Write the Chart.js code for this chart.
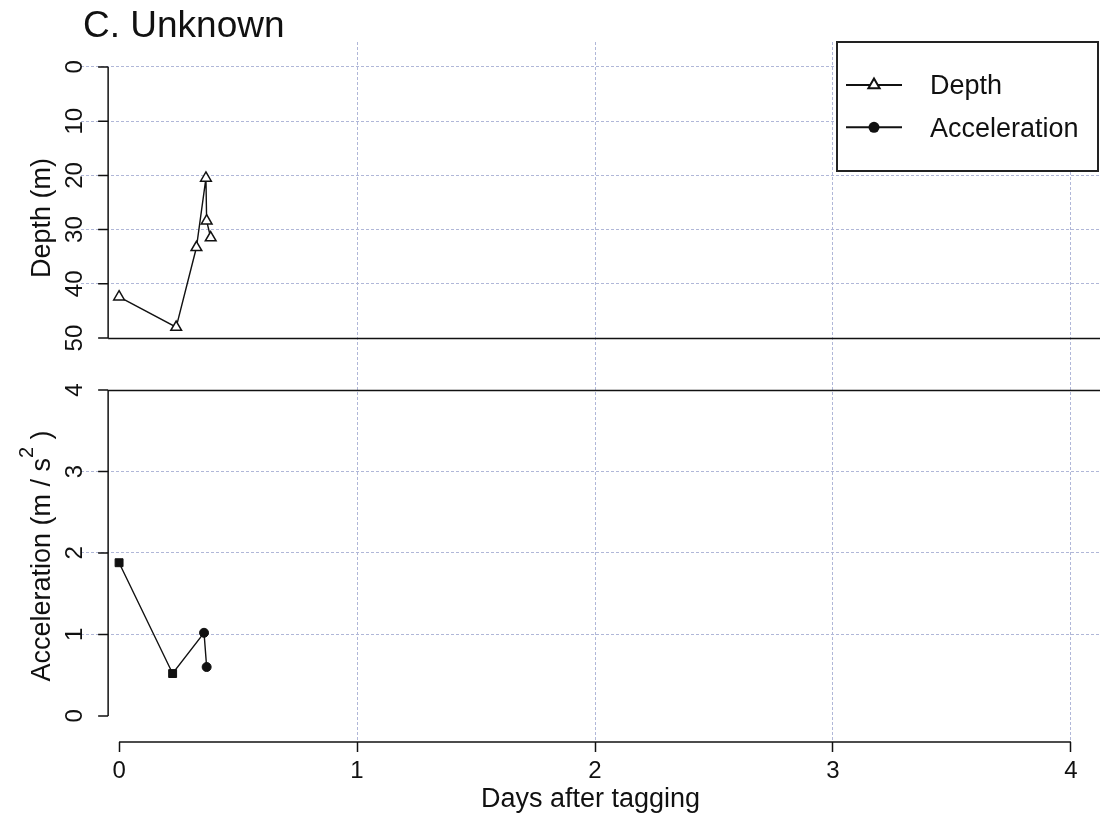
<!DOCTYPE html>
<html>
<head>
<meta charset="utf-8">
<title>C. Unknown</title>
<script src="https://cdn.jsdelivr.net/npm/chart.js@4.4.0/dist/chart.umd.min.js"></script>
<style>
  html, body { margin: 0; padding: 0; background: #fff; }
  #wrap { position: relative; width: 1100px; height: 822px; }
</style>
</head>
<body>
<div id="wrap"><canvas id="tagChart" width="1100" height="822"></canvas></div>
<script>
// depth records (days after tagging, metres)
const depthDays = [0.0, 0.24, 0.325, 0.365, 0.368, 0.385];
const depthValues = [42.4, 48.0, 33.3, 20.5, 28.4, 31.5];

// acceleration records (days after tagging, m/s^2)
const accelDays = [0.0, 0.225, 0.357, 0.368];
const accelValues = [1.88, 0.52, 1.02, 0.60];
const accelMarkers = ['rect', 'rect', 'circle', 'circle'];

const dayTicks = [0, 1, 2, 3, 4];
const depthTicks = [0, 10, 20, 30, 40, 50];
const accelTicks = [0, 1, 2, 3, 4];

const panelTitle = 'C. Unknown';
const depthTitle = 'Depth (m)';
const accelTitle = ['Acceleration (m / s', '2', ' )'];
const xTitle = 'Days after tagging';

const ink = '#111';
const gridBlue = '#b0b7d8';
const fontFamily = "'Liberation Sans', Arial, Helvetica, sans-serif";
const yAxisDay = -0.046;   // where the left axes sit on the day scale

function gridColor(hidden) {
  return ctx => (ctx.tick && hidden.includes(ctx.tick.value)) ? 'rgba(0,0,0,0)' : gridBlue;
}

function toPoints(xs, ys) {
  return xs.map((x, i) => ({ x: x, y: ys[i] }));
}

// R-style detached axes, panel separators, titles and the boxed legend
const panelAxes = {
  id: 'panelAxes',
  afterDraw(chart) {
    const { ctx, chartArea, scales } = chart;
    const xs = scales.x;
    const axisX = xs.getPixelForValue(yAxisDay);

    ctx.save();
    ctx.strokeStyle = ink;
    ctx.fillStyle = ink;
    ctx.lineWidth = 1.5;

    // panel borders
    ctx.beginPath();
    const sepTop = Math.round(scales.yDepth.getPixelForValue(50)) + 0.5;
    const sepBottom = Math.round(scales.yAccel.getPixelForValue(4)) + 0.5;
    ctx.moveTo(axisX, sepTop); ctx.lineTo(chartArea.right, sepTop);
    ctx.moveTo(axisX, sepBottom); ctx.lineTo(chartArea.right, sepBottom);
    ctx.stroke();

    // x axis line between first and last tick
    ctx.beginPath();
    ctx.moveTo(xs.getPixelForValue(dayTicks[0]), chartArea.bottom);
    ctx.lineTo(xs.getPixelForValue(dayTicks[dayTicks.length - 1]), chartArea.bottom);
    ctx.stroke();

    // left axes, labels read bottom to top
    ctx.font = '24px ' + fontFamily;
    ctx.textAlign = 'center';
    ctx.textBaseline = 'alphabetic';
    [scales.yDepth, scales.yAccel].forEach(scale => {
      const ticks = scale.ticks;
      const p0 = scale.getPixelForValue(ticks[0].value);
      const p1 = scale.getPixelForValue(ticks[ticks.length - 1].value);
      ctx.beginPath();
      ctx.moveTo(axisX, p0); ctx.lineTo(axisX, p1);
      ticks.forEach(t => {
        const py = scale.getPixelForValue(t.value);
        ctx.moveTo(axisX - 10, py); ctx.lineTo(axisX, py);
      });
      ctx.stroke();
      ticks.forEach(t => {
        const py = scale.getPixelForValue(t.value);
        ctx.save();
        ctx.translate(axisX - 26, py);
        ctx.rotate(-Math.PI / 2);
        ctx.fillText(String(t.value), 0, 0);
        ctx.restore();
      });
    });

    // axis titles
    ctx.font = '27px ' + fontFamily;
    ctx.save();
    ctx.translate(50, 218);
    ctx.rotate(-Math.PI / 2);
    ctx.fillText(depthTitle, 0, 0);
    ctx.restore();

    ctx.save();
    ctx.translate(50, 556);
    ctx.rotate(-Math.PI / 2);
    ctx.textAlign = 'left';
    const mainFont = '27px ' + fontFamily;
    const supFont = '20px ' + fontFamily;
    ctx.font = mainFont;
    const w0 = ctx.measureText(accelTitle[0]).width;
    const w2 = ctx.measureText(accelTitle[2]).width;
    ctx.font = supFont;
    const w1 = ctx.measureText(accelTitle[1]).width;
    let cx = -(w0 + w1 + w2) / 2;
    ctx.font = mainFont;
    ctx.fillText(accelTitle[0], cx, 0); cx += w0;
    ctx.font = supFont;
    ctx.fillText(accelTitle[1], cx, -17); cx += w1;
    ctx.font = mainFont;
    ctx.fillText(accelTitle[2], cx, 0);
    ctx.restore();

    // main title
    ctx.font = '37px ' + fontFamily;
    ctx.textAlign = 'left';
    ctx.fillText(panelTitle, 83, 37);

    // legend box
    const box = { left: 837, top: 42, right: 1098, bottom: 171 };
    ctx.fillStyle = '#fff';
    ctx.fillRect(box.left, box.top, box.right - box.left, box.bottom - box.top);
    ctx.lineWidth = 2;
    ctx.strokeStyle = '#222';
    ctx.strokeRect(box.left, box.top, box.right - box.left, box.bottom - box.top);

    ctx.font = '27px ' + fontFamily;
    ctx.textBaseline = 'alphabetic';
    chart.data.datasets.forEach((ds, i) => {
      const rowY = 85 + i * 42.3;
      ctx.strokeStyle = ink;
      ctx.lineWidth = 2;
      ctx.beginPath();
      ctx.moveTo(846, rowY); ctx.lineTo(902, rowY);
      ctx.stroke();
      const style = Array.isArray(ds.pointStyle) ? ds.pointStyle[ds.pointStyle.length - 1] : ds.pointStyle;
      ctx.beginPath();
      if (style === 'triangle') {
        const r = 6.5;
        ctx.moveTo(874, rowY - r);
        ctx.lineTo(874 + r * 0.866, rowY + r / 2);
        ctx.lineTo(874 - r * 0.866, rowY + r / 2);
        ctx.closePath();
        ctx.fillStyle = '#fff';
        ctx.fill();
        ctx.stroke();
      } else {
        ctx.arc(874, rowY, 5.5, 0, Math.PI * 2);
        ctx.fillStyle = ink;
        ctx.fill();
      }
      ctx.fillStyle = ink;
      ctx.textAlign = 'left';
      ctx.fillText(ds.label, 930, rowY + 9.3);
    });

    ctx.restore();
  }
};

const chart = new Chart(document.getElementById('tagChart'), {
  type: 'line',
  data: {
    datasets: [
      {
        label: 'Depth',
        data: toPoints(depthDays, depthValues),
        yAxisID: 'yDepth',
        borderColor: ink,
        borderWidth: 1.4,
        tension: 0,
        pointStyle: 'triangle',
        pointRadius: 6.2,
        pointBackgroundColor: '#fff',
        pointBorderColor: ink,
        pointBorderWidth: 1.5
      },
      {
        label: 'Acceleration',
        data: toPoints(accelDays, accelValues),
        yAxisID: 'yAccel',
        borderColor: ink,
        borderWidth: 1.4,
        tension: 0,
        pointStyle: accelMarkers,
        pointRadius: [5.6, 5.6, 4.5, 4.5],
        pointBackgroundColor: ink,
        pointBorderColor: ink,
        pointBorderWidth: 1
      }
    ]
  },
  options: {
    responsive: false,
    animation: false,
    events: [],
    layout: { autoPadding: false, padding: { top: 42, left: 0, right: 0, bottom: 0 } },
    plugins: {
      legend: { display: false },
      title: { display: false },
      tooltip: { enabled: false }
    },
    scales: {
      x: {
        type: 'linear',
        position: 'bottom',
        min: -0.16,
        max: 4.122,
        afterBuildTicks: s => { s.ticks = dayTicks.map(v => ({ value: v })); },
        afterFit: s => {
          s.height = 80;
          s.paddingLeft = 0;
          s.paddingRight = 0;
        },
        grid: {
          color: gridColor([0]),
          lineWidth: 1,
          drawTicks: true,
          tickLength: 10,
          tickColor: ink,
          tickWidth: 1.5,
          tickBorderDash: []
        },
        border: { display: false, dash: [3, 2] },
        ticks: {
          color: ink,
          font: { family: fontFamily, size: 24 },
          padding: 5,
          maxRotation: 0,
          autoSkip: false
        },
        title: {
          display: true,
          text: xTitle,
          color: ink,
          font: { family: fontFamily, size: 27 },
          padding: { top: 0, bottom: 6 }
        }
      },
      yDepth: {
        type: 'linear',
        position: 'left',
        reverse: true,
        min: -4.6,
        max: 124.5,
        afterBuildTicks: s => { s.ticks = depthTicks.map(v => ({ value: v })); },
        afterFit: s => { s.width = 81; s.paddingTop = 0; s.paddingBottom = 0; },
        grid: { color: gridColor([50]), lineWidth: 1, drawTicks: false },
        border: { display: false, dash: [3, 2] },
        ticks: { display: false }
      },
      yAccel: {
        type: 'linear',
        position: 'left',
        min: -0.32,
        max: 8.27,
        afterBuildTicks: s => { s.ticks = accelTicks.map(v => ({ value: v })); },
        afterFit: s => { s.width = 0; s.paddingTop = 0; s.paddingBottom = 0; },
        grid: { color: gridColor([0, 4]), lineWidth: 1, drawTicks: false },
        border: { display: false, dash: [3, 2] },
        ticks: { display: false }
      }
    }
  },
  plugins: [panelAxes]
});
</script>
</body>
</html>
